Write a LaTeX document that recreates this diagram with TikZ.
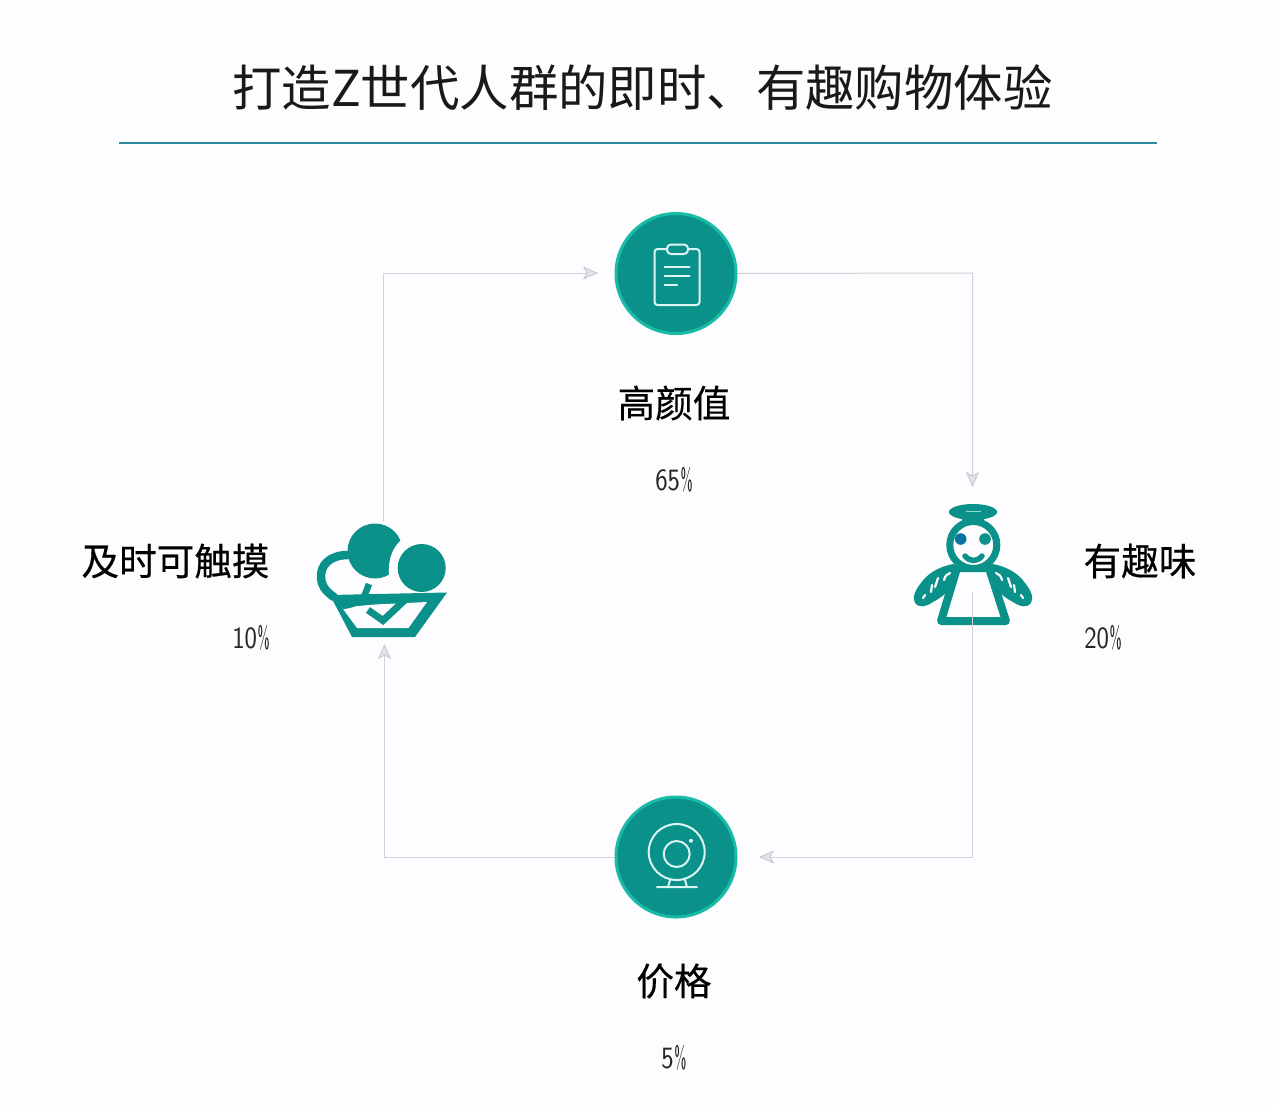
\documentclass[tikz,border=0pt]{standalone}
\usepackage{fontspec}
\usetikzlibrary{arrows.meta}
\newfontfamily\cjk{Noto Sans CJK SC}
\newfontfamily\cjkhead[FakeBold=0.35]{Noto Sans CJK SC}
\definecolor{bgc}{HTML}{FDFCFE}
\definecolor{teal1}{HTML}{0A918A}
\definecolor{teal2}{HTML}{18BBA6}
\definecolor{rulec}{HTML}{2B8C9E}
\definecolor{linec}{HTML}{D2D2D8}
\definecolor{arrc}{HTML}{E2E2E8}
\definecolor{arrd}{HTML}{C6C6CE}
\newcommand{\pct}[1]{{\sffamily\fontsize{31}{31}\selectfont\scalebox{0.85}[1]{#1}\kern0.5pt\scalebox{0.5}[1]{\%}}}
\tikzset{
 flow/.style={draw=linec,line width=1pt,-{Stealth[length=15pt,width=13pt,fill=arrc,color=arrd,inset=3.5pt,line width=0.8pt]}},
 disc/.style={circle,draw=teal2,line width=3pt,fill=teal1,minimum size=120pt,inner sep=0pt},
 ico/.style={draw=white!85!teal2,line width=2pt,line join=round,line cap=round},
 head/.style={font=\cjkhead\fontsize{37.6}{37.6}\selectfont,text=black,inner sep=0pt},
 val/.style={text=black!85,inner sep=0pt},
 tealline/.style={draw=teal1,line width=8pt,line join=round,line cap=round},
 wingmark/.style={draw=bgc,line width=2.2pt,line cap=round}
}
\begin{document}
\begin{tikzpicture}[x=1pt,y=-1pt]
\path[use as bounding box,fill=bgc] (0,0) rectangle (1274,1106);
\node[font=\cjk\fontsize{49.4}{49.4}\selectfont,text=black!90,inner sep=0pt] (title) at (642.5,88) {打造Z世代人群的即时、有趣购物体验};
\coordinate (ruleL) at (119,143); \coordinate (ruleR) at (1157,143);
\draw[rulec,line width=1.8pt] (ruleL) -- (ruleR);
% nodes
\node[disc] (top) at (676,273.5) {};
\node[disc] (bot) at (676,857) {};
\node[head] (tTop) at (674,403) {高颜值};
\node[head] (tBot) at (674,981) {价格};
\node[head] (tLeft) at (175.5,561) {及时可触摸};
\node[head] (tRight) at (1140,561) {有趣味};
\node[val] (vTop) at (674,480) {\pct{65}};
\node[val] (vBot) at (674,1058) {\pct{5}};
\node[val] (vLeft) at (251,638) {\pct{10}};
\node[val] (vRight) at (1103,638) {\pct{20}};
% clipboard
\draw[ico,rounded corners=3pt] (654.5,249) rectangle (699.5,305);
\draw[ico,fill=teal1,rounded corners=4pt] (667,244.5) rectangle (688,254);
\draw[ico] (664.5,267) -- (689.5,267) (664.5,276) -- (689.5,276) (664.5,285) -- (677,285);
% webcam
\draw[ico] (676.7,852) circle (28);
\draw[ico] (676.7,854) circle (13);
\fill[white!85!teal2] (691,840.7) circle (2);
\draw[ico] (657,887) -- (697,887) (670,880) -- (668,887) (685,880) -- (687,887);
% basket icon
\fill[teal1] (375,551) circle (27.5);
\fill[bgc] (410,532) -- (405,537) .. controls (393,545) and (386,560) .. (390,582) -- (388,590) -- (410,600) -- (430,540) -- cycle;
\fill[teal1] (421.7,568) circle (24);
\fill[teal1] (330,595) -- (447,592.5) -- (415,637) -- (352,637) -- cycle;
\fill[bgc] (342,607.5) -- (375,604.5) -- (427,602) -- (408.5,628) -- (357,628) -- cycle;
\draw[teal1,line width=7pt] (368,610) -- (383,620.5) -- (407,598);
\draw[teal1,line width=8.5pt,line cap=round] (348,555) .. controls (330,555) and (320,565) .. (321,578) .. controls (322,588) and (328,593) .. (334,597);
\draw[teal1,line width=6.5pt] (369,584) -- (364,597) .. controls (358,603) and (350,605) .. (342,606);
% angel
\fill[teal1] (953,564) .. controls (938,567) and (927,574) .. (921,583) .. controls (915,590) and (912,598) .. (915,603) .. controls (918,608) and (926,607) .. (933,602) .. controls (945,596) and (955,585) .. (964,570) -- cycle;
\fill[teal1] (993,564) .. controls (1008,567) and (1019,574) .. (1025,583) .. controls (1031,590) and (1034,598) .. (1031,603) .. controls (1028,608) and (1020,607) .. (1013,602) .. controls (1001,596) and (991,585) .. (982,570) -- cycle;
\draw[wingmark] (950,573) .. controls (947,574) and (945,576) .. (944,580) (938,578) -- (935,587) (932,585) -- (931,592) (925,595) -- (923,598);
\draw[wingmark] (996,573) .. controls (999,574) and (1001,576) .. (1002,580) (1008,578) -- (1011,587) (1014,585) -- (1015,592) (1021,595) -- (1023,598);
\draw[tealline,fill=bgc] (957,568) -- (989,568) -- (1006,621) -- (941,621) -- cycle;
\draw[teal1,line width=7pt,fill=bgc] (973.3,545) circle (23.5);
\fill[teal1] (973,512) ellipse (24 and 8);
\fill[teal1] (962,515) rectangle (984,524);
\draw[white!50!teal2,line width=1.2pt] (966,511.5) -- (981,511.5);
\fill[teal1!80!blue] (960.7,539) circle (5.8);
\fill[teal1] (985,539) circle (5.8);
\draw[teal1,line width=5.5pt,line cap=round] (965,556) .. controls (970,562) and (977,562) .. (982,556);
% connectors
\coordinate (lStart) at (383,522);
\coordinate (lCorner) at (383,273);
\coordinate (lEnd) at (598,273);
\coordinate (rCorner) at (972.5,273);
\coordinate (rEnd) at (972.5,487);
\coordinate (aStart) at (972.5,592);
\coordinate (bCorner) at (972.5,857);
\coordinate (bEnd) at (759,857);
\coordinate (cCorner) at (384.5,857);
\coordinate (cEnd) at (384.5,644);
\draw[flow] (lStart) -- (lCorner) -- (lEnd);
\draw[flow] (top.east) -- (rCorner) -- (rEnd);
\draw[flow] (aStart) -- (bCorner) -- (bEnd);
\draw[flow] (bot.west) -- (cCorner) -- (cEnd);
\end{tikzpicture}
\end{document}
